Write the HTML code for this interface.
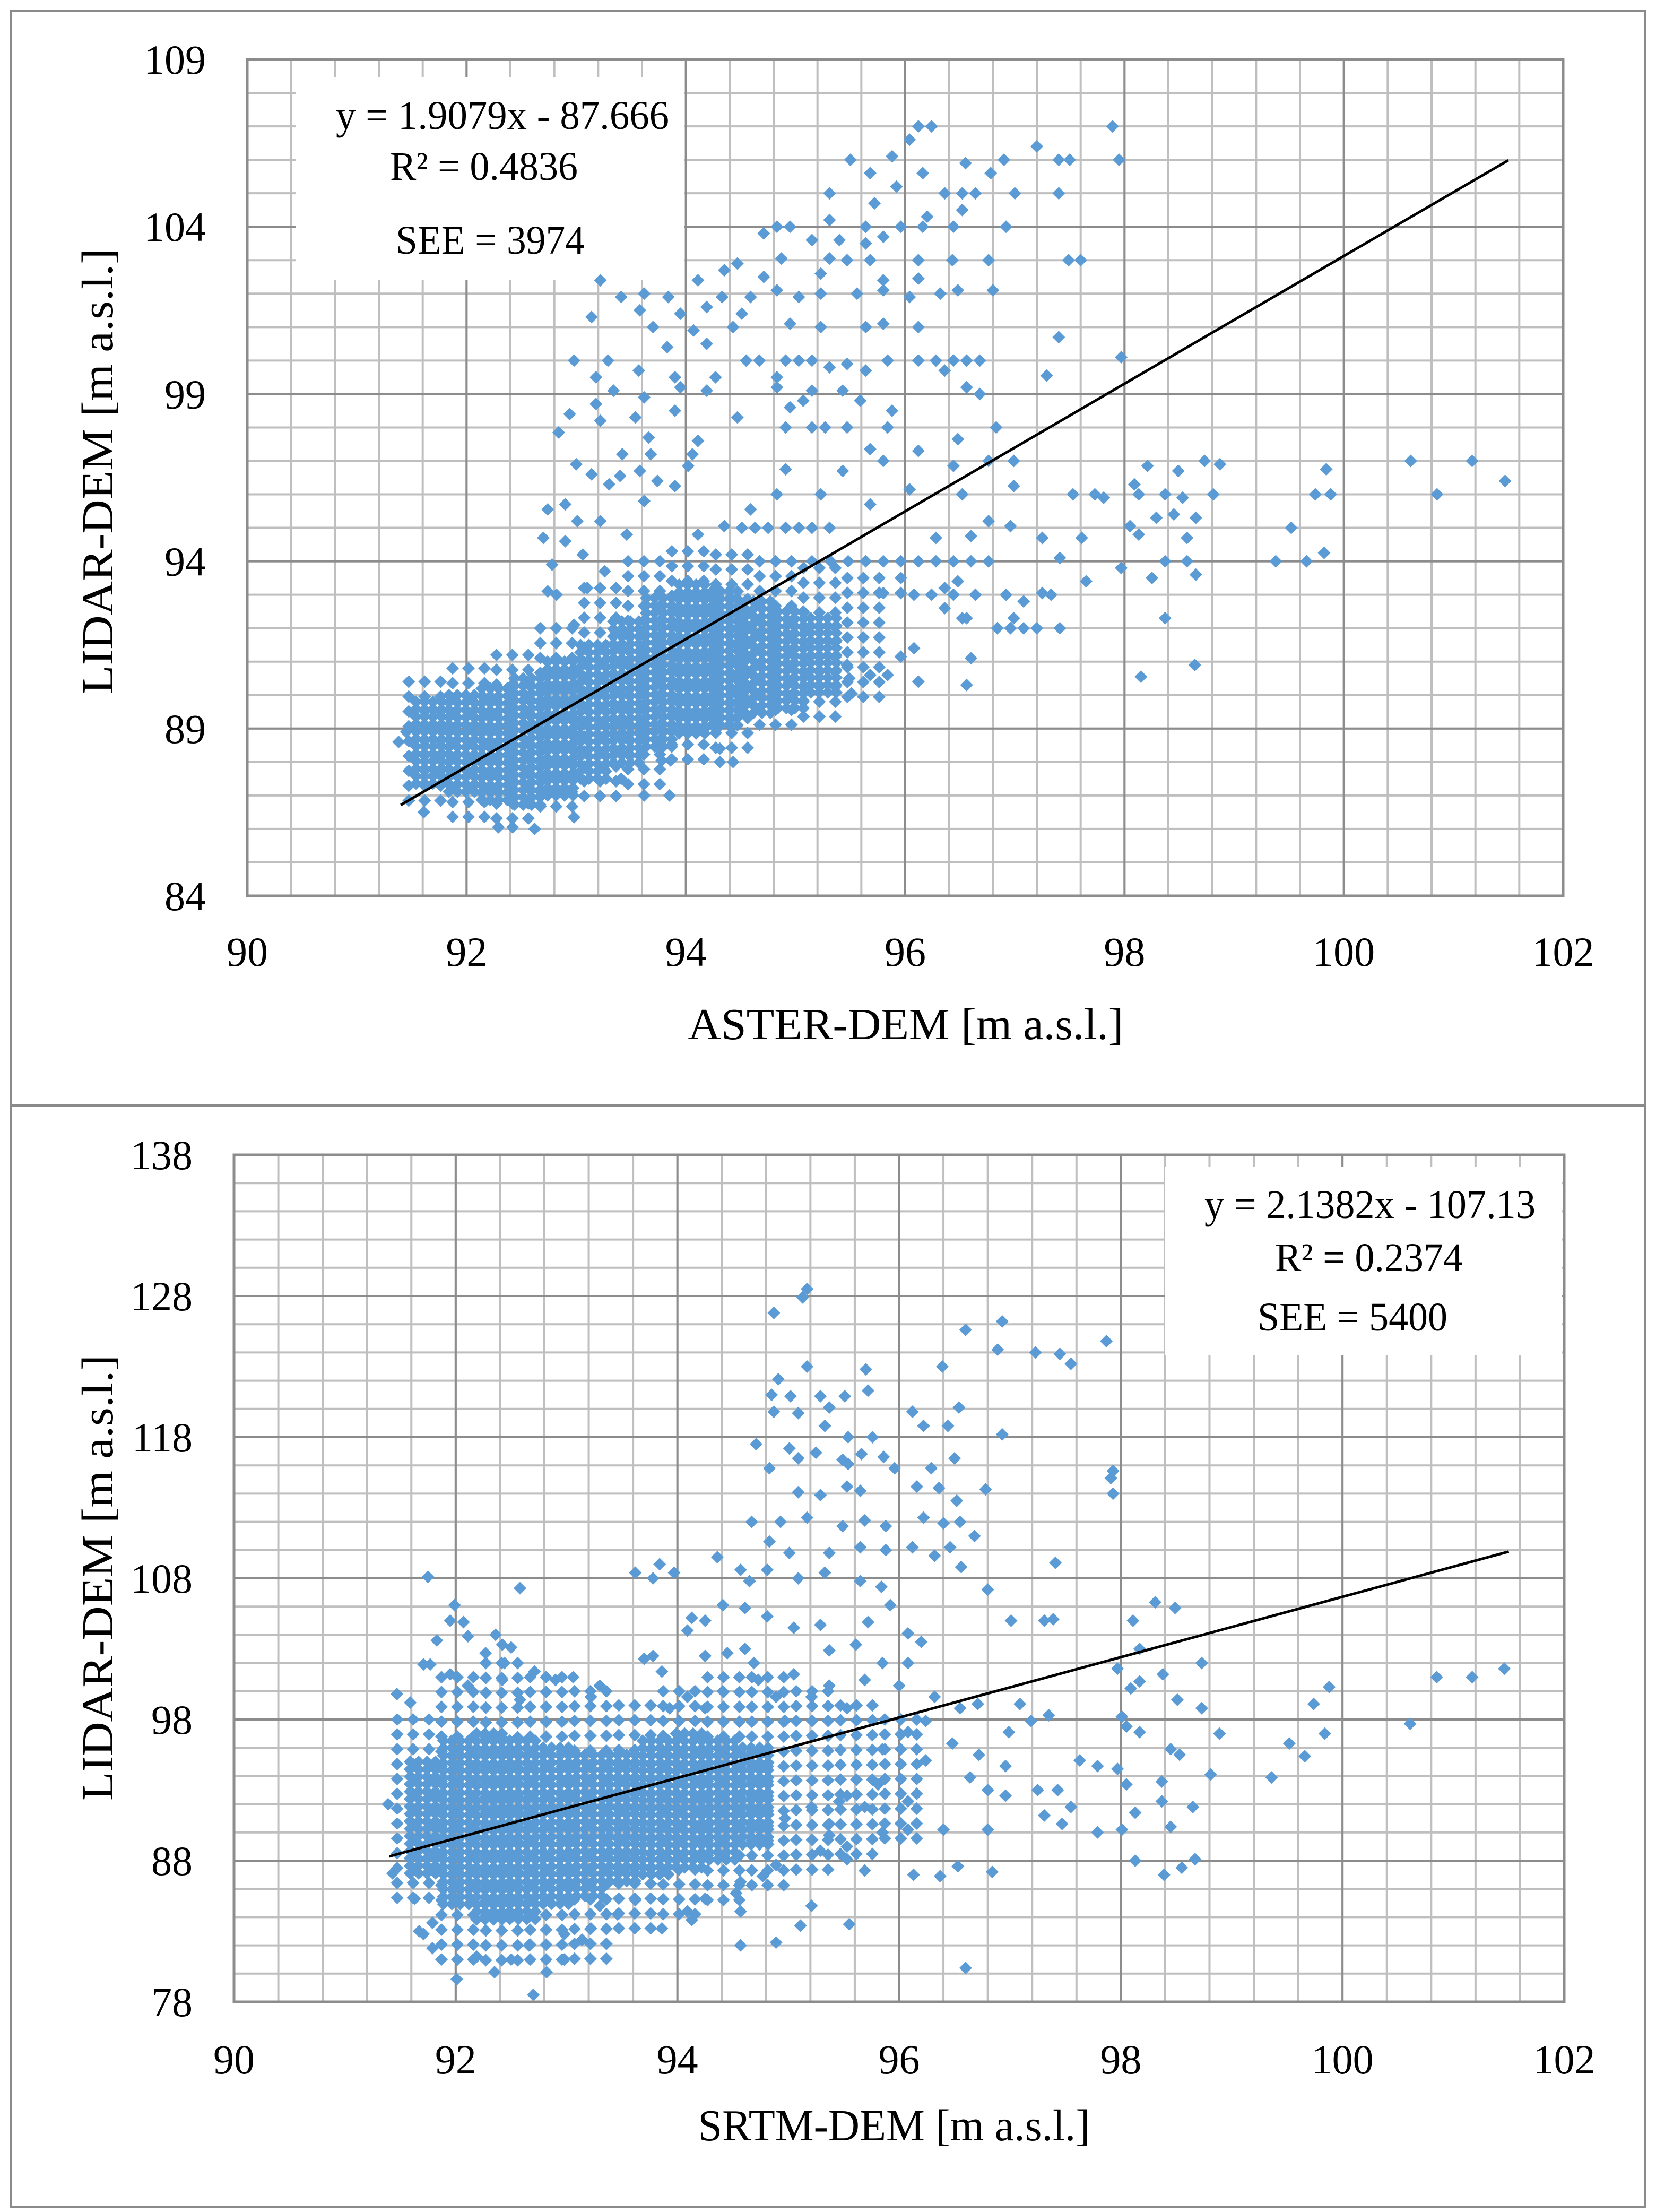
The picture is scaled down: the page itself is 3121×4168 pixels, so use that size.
<!DOCTYPE html>
<html><head><meta charset="utf-8"><style>
html,body{margin:0;padding:0;background:#fff;}
svg{display:block;}
text{font-family:"Liberation Serif",serif;fill:#000;}
</style></head><body>
<svg id="fig" width="3121" height="4168" viewBox="0 0 3121 4168" xmlns="http://www.w3.org/2000/svg">
<rect x="0" y="0" width="3121" height="4168" fill="#fff"/>
<rect x="21" y="21" width="3080" height="4138" fill="none" stroke="#8a8a8a" stroke-width="4"/>
<line x1="21" y1="2083" x2="3101" y2="2083" stroke="#8a8a8a" stroke-width="5"/>
<g id="c1"></g>
<g id="c2"></g>
</svg>
<script>
// ---------- Chart 1 data (ASTER vs LIDAR) ----------
const c1XTicks=[90,92,94,96,98,100,102];
const c1YTicks=[84,89,94,99,104,109];
const c1Slope=1.9079, c1Intercept=-87.666, c1LineX=[91.4,101.5];
const c1CoreX=[91.65,91.95,92.25,92.55,92.85,93.15,93.45,93.75,94.05,94.35,94.65,94.95,95.25];
const c1CoreLo=[87.3,87.0,86.8,86.7,87.0,87.4,87.8,88.3,88.8,89.1,89.3,89.6,90.0];
const c1CoreHi=[89.8,90.0,90.2,90.5,91.0,91.5,92.2,92.9,93.3,93.1,92.8,92.5,92.3];
const c1HaloX=[91.6,92.0,92.4,92.8,93.2,93.6,94.0,94.4,94.8,95.2,95.6];
const c1HaloLo=[86.8,86.2,86.0,86.4,86.8,87.2,87.8,88.2,88.8,89.2,89.8];
const c1HaloHi=[90.4,90.8,91.2,92.0,93.2,94.0,94.3,94.2,94.0,93.8,93.5];
const c1Pts="96.12,107;96.24,107;97.89,107;97.95,106;95.5,106;95.88,106.1;96.04,106.6;97.2,106.4;97.4,106;97.5,106;96.9,106;96.55,105.9;96.78,105.6;95.68,105.6;95.92,105.2;96.16,105.6;96.36,105;96.52,105;96.64,105;97,105;97.4,105;95.31,105;95.72,104.7;96.2,104.3;96.52,104.5;94.83,104;94.95,104;95.31,104.2;95.64,104;95.96,104;96.16,104;96.44,104;96.92,104;94.71,103.8;95.15,103.6;95.4,103.6;95.64,103.5;95.8,103.7;94.87,103.05;95.31,103.05;95.47,103;95.68,103;96.12,103;96.43,103;96.76,103;97.49,103;97.6,103;94.47,102.9;94.35,102.7;95.23,102.6;95.8,102.4;96.12,102.45;94.71,102.5;93.22,102.4;93.41,101.9;93.62,102;93.84,101.9;94.11,102.4;94.33,101.9;94.59,101.9;94.83,102.1;95.03,101.9;95.23,102;95.56,102;95.8,102.1;96.04,101.9;96.32,102;96.48,102.1;96.8,102.1;93.14,101.3;93.58,101.5;93.95,101.4;94.19,101.6;94.51,101.4;94.95,101.1;95.23,101;95.64,101;95.8,101.1;96.12,101;93.7,101;94.07,100.9;93.83,100.4;94.19,100.5;94.43,101;97.4,100.7;92.98,100;93.29,100;94.55,100;94.67,100;94.91,100;95.03,100;95.15,100;95.47,99.9;95.84,100;96.12,100;96.28,100;96.44,100;96.56,100;96.68,100;97.97,100.1;97.29,99.55;93.18,99.5;93.57,99.7;93.9,99.5;94.27,99.5;94.83,99.5;95.31,99.8;95.64,99.7;96.36,99.7;96.56,99.2;96.68,99;93.34,99.1;93.62,98.9;93.95,99.2;94.19,99.1;94.83,99.2;95.15,99.1;95.43,99.1;95.59,98.8;93.18,98.7;92.94,98.4;93.22,98.2;93.54,98.3;93.9,98.5;94.47,98.3;94.95,98.6;95.07,98.8;95.88,98.5;94.91,98;95.15,98;95.27,98;95.47,98;95.84,98;96.83,98;92.84,97.85;93.66,97.7;94.11,97.6;96.48,97.65;93.42,97.2;93.68,97.2;94.06,97.2;95.68,97.35;96.12,97.3;93,96.9;94.02,96.85;95.8,97;96.76,97;96.99,97;96.44,96.85;93.14,96.6;93.4,96.55;93.3,96.3;93.58,96.7;93.74,96.4;93.9,96.25;94.91,96.75;95.43,96.7;98.21,96.85;98.49,96.7;98.73,97;98.87,96.9;99.84,96.75;100.61,97;101.17,97;101.47,96.4;100.85,96;99.74,96;99.88,96;99.52,95;99.38,94;99.66,94;99.82,94.25;98.09,96.3;98.13,96;98.37,96;98.53,95.9;98.81,96;97.73,96;97.81,95.9;97.53,96;96.99,96.25;96.52,96;96.04,96.15;95.68,95.7;95.23,96;94.83,96;94.59,95.55;93.62,95.8;92.9,95.7;92.74,95.55;93.01,95.2;92.7,94.7;93.22,95.2;93.46,94.8;94.11,94.8;94.35,95.05;98.05,95.05;98.13,94.8;98.45,95.4;98.65,95.3;98.57,94.7;98.29,95.3;97.97,93.8;98.25,93.5;98.37,92.3;98.65,93.6;98.57,94;98.37,94;98.15,90.55;98.64,90.9;97.65,93.4;97.41,92;96.84,92;96.96,92;97.08,92;97.2,92;96.99,92.3;96.56,90.3;96.6,91.1;96.12,90.4;95.96,91.15;95.68,90.6;95.84,90.6;95.49,90.5;95.51,90.05;96.52,92.3;96.36,92.6;96.92,93;97.25,93.05;97.33,93;97.08,92.8;97.41,94.1;97.25,94.7;97.61,94.7;96.76,94;96.6,94;96.44,94;96.28,94;96.12,94;95.96,94;95.8,94;95.64,94;95.48,94;95.32,94;95.15,94;94.51,95;94.63,95;94.75,95;94.91,95;95.03,95;95.15,95;95.31,95;96.76,95.2;96.96,95.05;96.6,94.75;96.28,94.7;95.96,93.5;96.08,93;96.24,93;96.44,93;96.64,93;95.96,93.05;95.8,93.05;96.36,93.2;96.48,93.4;93.41,87.5;93.62,87;93.85,87;93.86,88.05;93.78,88.05;94.31,88;94.43,88;94.31,88.4;92.98,86.35;92.62,86;92.29,86.05;92.42,86.05;91.61,86.5;91.38,88.6;91.45,88.9;92.74,93.1;92.82,93;92.98,92.1;93.1,93.2;92.78,93.9;93.06,94.2;93.26,93.7;92.9,94.6;96.56,92.3;96.08,91.4;95.47,90.9";

// ---------- Chart 2 data (SRTM vs LIDAR) ----------
const c2XTicks=[90,92,94,96,98,100,102];
const c2YTicks=[78,88,98,108,118,128,138];
const c2Slope=2.1382, c2Intercept=-107.13, c2LineX=[91.4,101.5];
const c2CoreX=[91.7,92.0,92.3,92.6,92.9,93.2,93.5,93.8,94.1,94.4,94.7];
const c2CoreLo=[87,84.5,83.5,83.5,84.5,85.5,86.5,87,87.5,88,89];
const c2CoreHi=[95,96.5,97,96.5,96,95.5,95.5,96.5,97,96.5,96];
const c2HaloX=[91.6,92.0,92.4,92.8,93.2,93.6,94.0,94.4,94.8,95.2,95.6,96.0];
const c2HaloLo=[85,81,80,80,81,83,84,85,86,87,88,89];
const c2HaloHi=[98,101,102,101,100,99,100,101,101,100,99,98];
const c2Pts="95.17,128.5;95.13,127.9;94.87,126.8;96.6,125.6;96.93,126.2;96.89,124.2;97.23,124;97.45,123.9;97.55,123.2;97.87,124.8;96.39,123;95.17,123;95.7,122.8;94.91,122.1;95.72,121.3;94.85,121;95.02,120.9;95.29,120.9;95.51,120.9;95.37,120.1;95.09,119.7;94.87,119.8;96.12,119.8;96.54,120.1;96.22,118.8;96.44,118.8;95.33,118.8;96.93,118.2;95.76,118;95.54,118;94.71,117.5;95.01,117.2;95.25,116.9;95.09,116.5;95.49,116.4;95.66,116.8;95.86,116.6;95.96,115.8;94.83,115.8;95.54,116.1;96.5,116.5;96.29,115.8;97.93,115.6;97.91,115.1;97.93,114;95.09,114.1;95.29,113.9;95.53,114.5;95.65,114.2;96.78,114.3;96.16,114.5;96.36,114.4;96.52,113.5;94.67,112;94.93,112;95.17,112.3;95.49,111.7;95.69,112.1;95.88,111.7;96.22,112.3;96.4,111.9;96.55,112;96.68,111;94.83,110.6;95.01,109.8;95.37,109.8;95.65,110.2;95.88,110;96.12,110.2;96.32,109.6;96.46,110.2;97.41,109.1;94.81,108.6;95.09,108;95.33,108.4;95.65,107.8;95.84,107.4;96.56,108.8;96.8,107.2;91.75,108.1;92.58,107.3;93.62,108.4;93.78,108;93.84,109;93.97,108.4;94.36,109.5;94.57,108.6;94.65,107.8;98.31,106.3;98.49,105.9;98.11,105;97.01,105;97.39,105.1;97.31,105;91.99,106.1;91.95,105;92.07,104.9;92.11,103.9;91.83,103.6;92.36,104;92.42,103.3;92.5,103.1;92.27,102.7;91.71,101.9;91.77,101.9;92.71,101.4;92.44,102;94.41,106.1;94.13,105.2;94.25,105;94.09,104.3;94.61,105.9;94.81,105.3;95.05,104.5;95.29,104.7;95.72,104.9;95.92,106.1;96.08,104.1;96.2,103.5;93.78,102.5;93.7,102.3;93.86,101.4;94.25,102.5;94.45,102.7;94.61,103;94.69,102;98.17,103;98.73,102;100.85,101;101.17,101;101.46,101.6;99.88,100.3;99.74,99.1;100.61,97.7;99.84,97;99.52,96.3;99.66,95.4;99.36,93.9;98.89,97;98.73,98.8;98.51,99.4;98.38,101.2;98.17,100.7;98.09,100.2;98.01,98.2;97.97,101.6;98.17,97.1;98.05,97.5;97.79,94.7;97.63,95.1;97.97,94.5;98.05,93.4;98.37,93.6;98.45,95.9;98.53,95.5;98.81,94.1;98.65,91.8;98.37,92.2;98.13,91.4;98.01,90.2;97.79,90;97.47,90.6;97.31,91.2;97.55,91.8;97.43,93;97.25,93;98.13,88;98.39,87;98.55,87.5;98.67,88.1;98.45,90.4;96.6,80.4;96.13,87;96.37,86.9;96.53,87.6;96.84,87.2;96.8,90.2;96.4,90.2;96.08,90.2;95.85,90;95.53,89;95.29,88.7;95.21,84.8;95.11,83.4;95.55,83.5;94.89,82.2;94.57,82;93.86,83.2;94.13,83.8;92.7,78.5;92.82,80.1;92.35,80.1;92.01,79.6;92.98,81;92.5,81;92.19,81.2;91.79,81.8;91.71,82.8;96.64,93.9;96.96,94.7;96.99,97.1;97.19,97.9;97.35,98.3;97.09,99.1;96.71,99.1;96.55,98.8;96.48,96.3;96.72,95.5;96.8,93;96.96,92.6;96.24,95.1;96.08,92.2;95.69,91.8;95.81,93.4;95.46,92.2;95.37,90.6;95.85,95.9;96.08,97.1;96.24,97.9;96.32,99.6;96,100.4;95.85,102;96.08,102;95.69,100.8;95.37,100.4;95.53,98.8;95.21,99.6;95.05,101.2;95.37,102.9;95.61,103.3;94.97,97.9;94.89,99.6;94.73,100.8;94.41,100;94.25,98.8;94.09,99.6;93.93,98.8;93.3,100.4;93.06,101;92.9,100.8;93.22,99.6;92.42,100.8;92.58,99.4;92.11,100.4;91.95,101.2;91.47,99.8;91.59,99.2;91.39,92;91.43,87.1;91.59,87.1;91.63,85.3;91.67,83;91.79,83.6;95.53,92.6;95.21,91.8;94.97,91;94.89,87.7;94.77,86.9;94.57,86.5;94.53,85.7;94.57,84.4;94.25,85.3;94.09,84.4;93.46,84.2;93.62,85.2;93.3,84.8;93.14,82.4;93.22,83.2;92.98,82.8;92.66,82;95.37,89.8;95.69,87.3;95.53,88.1";

const NS="http://www.w3.org/2000/svg";
function mk(parent,tag,attrs){const e=document.createElementNS(NS,tag);for(const k in attrs)e.setAttribute(k,attrs[k]);parent.appendChild(e);return e;}
function parsePts(s){return s.split(";").map(p=>p.split(",").map(Number));}

function drawChart(g,cfg){
  const L=cfg.left,R=cfg.right,T=cfg.top,B=cfg.bottom;
  const sx=v=>L+(v-cfg.xMin)/(cfg.xMax-cfg.xMin)*(R-L);
  const sy=v=>B-(v-cfg.yMin)/(cfg.yMax-cfg.yMin)*(B-T);
  const grid=mk(g,"g",{});
  
  
  for(let v=cfg.xMin;v<=cfg.xMax+1e-6;v+=cfg.xMinor){mk(grid,"line",{x1:sx(v),y1:T,x2:sx(v),y2:B,stroke:"#bfbfbf","stroke-width":4});}
  for(let v=cfg.yMin;v<=cfg.yMax+1e-6;v+=cfg.yMinor){mk(grid,"line",{x1:L,y1:sy(v),x2:R,y2:sy(v),stroke:"#bfbfbf","stroke-width":4});}
  cfg.xTicks.forEach(v=>mk(grid,"line",{x1:sx(v),y1:T,x2:sx(v),y2:B,stroke:"#8c8c8c","stroke-width":4}));
  cfg.yTicks.forEach(v=>mk(grid,"line",{x1:L,y1:sy(v),x2:R,y2:sy(v),stroke:"#8c8c8c","stroke-width":4}));
  const frame=mk(g,"rect",{x:L,y:T,width:R-L,height:B-T,fill:"none",stroke:"#8c8c8c","stroke-width":5});
  
  
  const box=mk(g,"rect",{x:cfg.box[0],y:cfg.box[1],width:cfg.box[2],height:cfg.box[3],fill:"#fff"});
  
  
  const pts=mk(g,"g",{fill:"#5b9bd5"});
  
  
  function diamond(x,y){const px=sx(x),py=sy(y);
    const d=mk(pts,"path",{d:`M${px.toFixed(1)} ${(py-12).toFixed(1)}L${(px+12).toFixed(1)} ${py.toFixed(1)}L${px.toFixed(1)} ${(py+12).toFixed(1)}L${(px-12).toFixed(1)} ${py.toFixed(1)}Z`});
    
    }
  function fillBand(xs,lo,hi,stepX,stepY){
    const half=(sx(xs[1])-sx(xs[0]))/2;
    xs.forEach((x,i)=>{const cx=sx(x),y1=sy(hi[i]),y2=sy(lo[i]);
      for(let px=cx-half+stepX/2;px<cx+half;px+=stepX){for(let py=y1;py<=y2;py+=stepY){
        const dx=(px-L)/(R-L)*(cfg.xMax-cfg.xMin)+cfg.xMin, dy=(B-py)/(B-T)*(cfg.yMax-cfg.yMin)+cfg.yMin;
        diamond(dx,dy);}}});}
  fillBand(cfg.haloX,cfg.haloLo,cfg.haloHi,30,28);
  fillBand(cfg.coreX,cfg.coreLo,cfg.coreHi,16,14);
  parsePts(cfg.pts).forEach(p=>diamond(p[0],p[1]));
  const tl=mk(g,"line",{x1:sx(cfg.lineX[0]),y1:sy(cfg.slope*cfg.lineX[0]+cfg.intercept),x2:sx(cfg.lineX[1]),y2:sy(cfg.slope*cfg.lineX[1]+cfg.intercept),stroke:"#000","stroke-width":5});
  
  
  cfg.xTicks.forEach(v=>{const t=mk(g,"text",{x:sx(v),y:cfg.xLabelY,"font-size":78,"text-anchor":"middle"});t.textContent=v;
    
    });
  cfg.yTicks.forEach(v=>{const t=mk(g,"text",{x:cfg.yLabelX,y:sy(v)+27,"font-size":78,"text-anchor":"end"});t.textContent=v;
    
    });
  const xt=mk(g,"text",{x:cfg.xTitle[1],y:cfg.xTitle[2],"font-size":84,"text-anchor":"middle",textLength:cfg.xTitle[3],lengthAdjust:"spacingAndGlyphs"});xt.textContent=cfg.xTitle[0];
  
  
  const yt=mk(g,"text",{x:0,y:0,"font-size":84,"text-anchor":"middle",textLength:cfg.yTitle[3],lengthAdjust:"spacingAndGlyphs",transform:`translate(${cfg.yTitle[1]},${cfg.yTitle[2]}) rotate(-90)`});yt.textContent=cfg.yTitle[0];
  
  
  cfg.eq.forEach((e,i)=>{const t=mk(g,"text",{x:e[1],y:e[2],"font-size":76,"text-anchor":"middle",textLength:e[3],lengthAdjust:"spacingAndGlyphs"});t.textContent=e[0];
    
    });
}

drawChart(document.getElementById("c1"),{left:466,right:2946,top:112,bottom:1688,xMin:90,xMax:102,yMin:84,yMax:109,xMinor:0.4,yMinor:1,
  xTicks:c1XTicks,yTicks:c1YTicks,slope:c1Slope,intercept:c1Intercept,lineX:c1LineX,
  coreX:c1CoreX,coreLo:c1CoreLo,coreHi:c1CoreHi,haloX:c1HaloX,haloLo:c1HaloLo,haloHi:c1HaloHi,pts:c1Pts,
  box:[558,145,731,382],xLabelY:1820,yLabelX:388,
  xTitle:["ASTER-DEM [m a.s.l.]",1707,1958,821],yTitle:["LIDAR-DEM [m a.s.l.]",212,888,840],
  eq:[["y = 1.9079x - 87.666",947,243,628],["R² = 0.4836",912,339,354],["SEE = 3974",924,478,356]]});

drawChart(document.getElementById("c2"),{left:441,right:2948,top:2176,bottom:3772,xMin:90,xMax:102,yMin:78,yMax:138,xMinor:0.4,yMinor:2,
  xTicks:c2XTicks,yTicks:c2YTicks,slope:c2Slope,intercept:c2Intercept,lineX:c2LineX,
  coreX:c2CoreX,coreLo:c2CoreLo,coreHi:c2CoreHi,haloX:c2HaloX,haloLo:c2HaloLo,haloHi:c2HaloHi,pts:c2Pts,
  box:[2195,2199,749,354],xLabelY:3907,yLabelX:363,
  xTitle:["SRTM-DEM [m a.s.l.]",1685,4033,739],yTitle:["LIDAR-DEM [m a.s.l.]",212,2973,840],
  eq:[["y = 2.1382x - 107.13",2582,2295,624],["R² = 0.2374",2580,2395,354],["SEE = 5400",2549,2507,358]]});
</script>
</body></html>
